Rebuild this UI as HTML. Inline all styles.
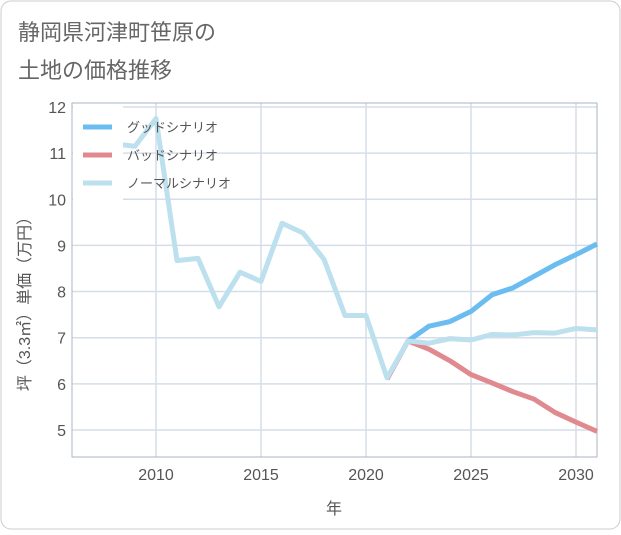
<!DOCTYPE html>
<html><head><meta charset="utf-8"><style>
body{margin:0;background:#fff;font-family:"Liberation Sans","Noto Sans CJK JP",sans-serif;}
</style></head><body>
<svg width="621" height="530" xmlns="http://www.w3.org/2000/svg" font-family="Liberation Sans, Noto Sans CJK JP, sans-serif">
<rect x="1" y="1" width="619" height="528" rx="10" fill="#fff" stroke="#ccc"/>
<text x="18" y="40" font-size="22" fill="#666">静岡県河津町笹原の</text>
<text x="18" y="78" font-size="22" fill="#666">土地の価格推移</text>
<g id="grid"></g>
<rect x="72" y="103" width="525" height="354" fill="none" stroke="#aab4c0"/>
<g id="series"></g>
<g id="ticks" font-size="16" fill="#555"></g>
<text x="334" y="514" font-size="16" fill="#555" text-anchor="middle">年</text>
<text transform="translate(30,300) rotate(-90)" font-size="16" fill="#555" text-anchor="middle">坪（3.3㎡）単価（万円）</text>
<g id="legend"></g>
</svg>
<script>
const years=[2008,2009,2010,2011,2012,2013,2014,2015,2016,2017,2018,2019,2020,2021,2022,2023,2024,2025,2026,2027,2028,2029,2030,2031];
const normal=[11.2,11.15,11.75,8.67,8.72,7.67,8.42,8.22,9.48,9.27,8.7,7.48,7.48,6.13,6.93,6.88,6.98,6.95,7.07,7.06,7.11,7.1,7.2,7.17];
const goodYears=[2022,2023,2024,2025,2026,2027,2028,2029,2030,2031];
const good=[6.93,7.25,7.35,7.57,7.93,8.08,8.33,8.58,8.8,9.03];
const badYears=[2021,2022,2023,2024,2025,2026,2027,2028,2029,2030,2031];
const bad=[6.1,6.93,6.75,6.5,6.2,6.02,5.83,5.67,5.38,5.17,4.97];
const xTicks=[2010,2015,2020,2025,2030];
const yTicks=[5,6,7,8,9,10,11,12];
const NS="http://www.w3.org/2000/svg";
const X=y=>156+(y-2010)*21, Y=v=>107+(12-v)*46.14;
function mk(t,p,a){const e=document.createElementNS(NS,t);for(const k in a)e.setAttribute(k,a[k]);p.appendChild(e);return e;}
const grid=document.getElementById('grid'),ticks=document.getElementById('ticks'),series=document.getElementById('series'),leg=document.getElementById('legend');
for(const v of yTicks){
 const l=mk('line',grid,{x1:72,x2:597,y1:Y(v),y2:Y(v),stroke:'#d5dee8','stroke-width':1.5});
 
 
 const t=mk('text',ticks,{x:66,y:Y(v)+6,'text-anchor':'end'});t.textContent=v;
 
 
}
for(const v of xTicks){
 const l=mk('line',grid,{x1:X(v),x2:X(v),y1:103,y2:457,stroke:'#d5dee8','stroke-width':1.5});
 
 
 const t=mk('text',ticks,{x:X(v),y:480,'text-anchor':'middle'});t.textContent=v;
 
 
}
function line(xs,vs,c,name){
 const p=mk('polyline',series,{points:xs.map((x,i)=>X(x)+','+Y(vs[i])).join(' '),fill:'none',stroke:c,'stroke-width':5,'stroke-linejoin':'round'});
 
 
}
line(badYears,bad,'#e08a90','bad-scenario-line');
line(goodYears,good,'#6bbcf0','good-scenario-line');
line(years,normal,'#bde0ee','normal-scenario-line');
const lb=mk('rect',leg,{x:73,y:104,width:50,height:96,fill:'#fff'});


const legItems=[['グッドシナリオ','#6bbcf0'],['バッドシナリオ','#e08a90'],['ノーマルシナリオ','#bde0ee']];
legItems.forEach((it,i)=>{
 const y=127+i*28;
 const l=mk('line',leg,{x1:83,x2:112,y1:y,y2:y,stroke:it[1],'stroke-width':5});
 
 
 const t=mk('text',leg,{x:127,y:y+5,'font-size':13,fill:'#555'});t.textContent=it[0];
 
 
});
</script>
</body></html>
